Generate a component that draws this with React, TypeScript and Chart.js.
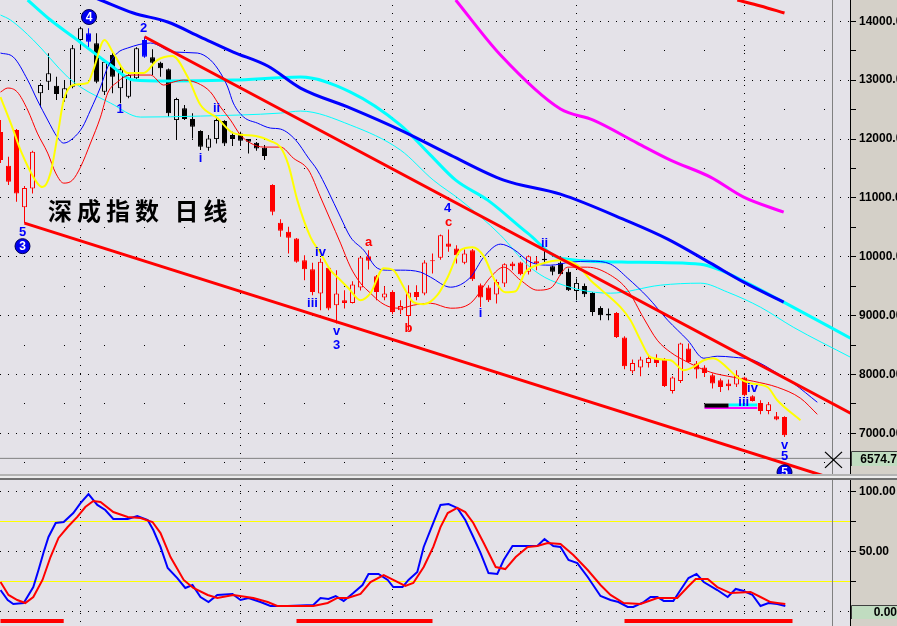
import React, { useEffect, useRef } from 'react';
import { Chart, registerables } from 'chart.js';

Chart.register(...registerables);

// ---------- layout constants ----------
const W = 897;
const MAIN_H = 474;
const OSC_TOP = 480;
const OSC_H = 146;
const AXIS_W = 47;
const CHART_BG = '#E4E2E8';
const PANEL_BG = '#D4D0C8';
const BOX_BG = '#C0DCC0';
const FONT = '"Liberation Sans", Arial, sans-serif';

// ---------- scales ----------
const X_MIN = -0.0625;
const X_MAX = 106.1875;
const PRICE_MIN = 6309;
const PRICE_MAX = 14362;
const OSC_MIN = -11.67;
const OSC_MAX = 110;
const MONTH_LINES = [10, 30, 49, 72, 93];
const PRICE_TICKS = [6500, 7000, 7500, 8000, 8500, 9000, 9500, 10000, 10500, 11000, 11500, 12000, 12500, 13000, 13500, 14000];
const PRICE_LABELS = [7000, 8000, 9000, 10000, 11000, 12000, 13000, 14000];
const OSC_TICKS = [0, 25, 50, 75, 100];
const OSC_LABELS = [50, 100];
const OSC_LEVELS = [25, 75];
const CURSOR_I = 104;
const CURSOR_PRICE = 6574.7;
const CURSOR_OSC = 0;

const TITLE = '深成指数 日线';

// ---------- candles (daily OHLC) ----------
const OPEN = [12118, 11545, 12152, 10843, 11161, 12776, 12973, 12905, 12691, 12888,
  13682, 13796, 13626, 12803, 13427, 12861, 12718, 13031, 13682, 13388,
  13296, 13184, 12322, 12521, 12339, 12135, 11851, 11999, 12305, 12067,
  12096, 11999, 11936, 11851, 11217, 10576, 10423, 10311, 9942, 9789,
  9376, 9811, 9177, 9262, 9216, 9478, 10010, 9670, 9308, 9403,
  9092, 8995, 9403, 9376, 9940, 9981, 10226, 10141, 9896, 10112,
  9517, 9478, 9359, 9546, 9886, 9903, 9743, 9925, 9964, 9840,
  9896, 9743, 9420, 9505, 9386, 9131, 9030, 9046, 8628, 8055,
  8118, 8196, 8271, 8259, 7720, 7890, 8441, 8186, 8118, 7987,
  7902, 7846, 7829, 7948, 7630, 7516, 7380, 7290, 7278];
const HIGH = [12322, 11698, 12170, 11200, 11800, 12946, 13456, 13058, 13002, 13597,
  13908, 13881, 13796, 13342, 13483, 13228, 13100, 13560, 13738, 13524,
  13313, 13200, 12700, 12577, 12436, 12150, 12067, 12378, 12320, 12123,
  12123, 12000, 11950, 11897, 11230, 10639, 10508, 10320, 10027, 9896,
  9971, 9830, 9772, 9432, 9585, 10000, 10112, 9690, 9500, 9432,
  9262, 9517, 9517, 9942, 10056, 10380, 10464, 10197, 10123, 10130,
  9546, 9517, 9614, 9890, 9913, 9913, 10027, 10000, 10100, 9851,
  9925, 9801, 9630, 9546, 9400, 9160, 9120, 9060, 8650, 8254,
  8300, 8327, 8344, 8280, 7970, 8540, 8526, 8230, 8157, 8016,
  7931, 7914, 8072, 7960, 7647, 7562, 7533, 7363, 7290];
const LOW = [11591, 11217, 10933, 10571, 11076, 12538, 12832, 12662, 12633, 12861,
  13512, 13512, 12946, 12747, 12776, 12606, 12691, 13000, 13380, 13087,
  13058, 12378, 11999, 12322, 12011, 11812, 11800, 11926, 11880, 11880,
  11880, 11756, 11800, 11642, 10707, 10338, 10056, 9896, 9602, 9347,
  9092, 9092, 8866, 9121, 9205, 9427, 9784, 9262, 9262, 9024,
  9024, 8752, 9262, 9347, 9716, 9950, 10083, 9886, 9874, 9590,
  9148, 9230, 9206, 9488, 9772, 9687, 9700, 9772, 9886, 9687,
  9687, 9420, 9262, 9317, 9007, 8922, 8922, 8620, 8089, 8016,
  7970, 8118, 8128, 7788, 7676, 7856, 8196, 7931, 7958, 7761,
  7703, 7732, 7788, 7630, 7540, 7324, 7324, 7222, 6938];
const CLOSE = [11642, 11273, 11076, 11166, 11783, 12917, 13116, 12764, 12861, 13541,
  13881, 13653, 12973, 13313, 13058, 13184, 13087, 13541, 13398, 13296,
  13201, 12436, 12679, 12339, 12208, 11868, 12011, 12322, 11926, 11999,
  11970, 11953, 11841, 11710, 10763, 10440, 10321, 9913, 9789, 9403,
  9913, 9121, 9376, 9216, 9529, 9988, 9930, 9403, 9376, 9063,
  9165, 9393, 9317, 9903, 9925, 10367, 10168, 10027, 10056, 9619,
  9308, 9262, 9573, 9874, 9840, 9704, 10010, 9886, 9942, 9743,
  9704, 9432, 9556, 9364, 9063, 9007, 9000, 8638, 8140, 8196,
  8254, 8281, 8196, 7805, 7948, 8526, 8213, 8084, 8026, 7846,
  7788, 7800, 7987, 7647, 7550, 7380, 7494, 7234, 6967];
// r = red, k = black, b = blue
const CANDLE_COLOR =
  'rrrrr' + 'kkkkkk' + 'b' + 'kkkkkk' + 'b' + 'kkkkkkkkkkkkkkk' +
  'rrrrrrrrrrrrrrrrrrrrrrrrrrrrrrrrrr' + 'kkkkkkkkk' + 'rrrrrrrrrrrrrrrrrrrrrr';

// ---------- moving averages / trend lines : [index, value] ----------
const MA_YELLOW: [number, number][] = [
  [0, 12713], [1.6, 12152], [2.5, 11812], [4.6, 11251], [5.25, 11183], [6.25, 11421], [7.1, 12033],
  [7.9, 12662], [9.1, 12917], [10.9, 12951], [11.6, 13172], [13, 13682], [14.1, 13461], [15.9, 13121],
  [17.9, 13121], [19.6, 13342], [21.5, 13410], [23.4, 13053], [25, 12577], [27.1, 12356], [29.1, 12101],
  [31.9, 12050], [33.75, 11965], [35, 11863], [36, 11557], [37.1, 10962], [38.75, 10333], [40, 10061],
  [41.25, 9772], [42.5, 9602], [43.5, 9466], [45, 9262], [46.25, 9381], [47.9, 9806], [49.1, 9772],
  [50.4, 9483], [51.6, 9228], [52.9, 9194], [54.6, 9347], [55.9, 9653], [57.5, 10112], [59, 10163],
  [60.4, 10010], [61.9, 9568], [63.1, 9398], [64.4, 9415], [65.6, 9738], [67.5, 9874], [70, 9942],
  [72.1, 9857], [73.75, 9602], [75, 9450], [77.5, 9143], [78.75, 8922], [80, 8582], [81.25, 8293],
  [83.75, 8242], [85.4, 8072], [86.6, 8123], [87.9, 8242], [89.1, 8276], [90.9, 8106], [92.1, 7953],
  [93.75, 7851], [95.9, 7783], [97.1, 7562], [100, 7222]];
const MA_RED_THIN: [number, number][] = [
  [0, 12798], [0.9, 12866], [2.1, 12798], [3.4, 12492], [4.6, 12101], [5.9, 11761], [6.9, 11421],
  [7.9, 11251], [9, 11302], [10, 11523], [11.25, 11931], [12.5, 12373], [13.4, 12781], [14.6, 12968],
  [16.25, 13087], [18.75, 13087], [20.4, 12917], [21.6, 12968], [22.9, 13002], [24.6, 12951],
  [26.25, 12798], [27.5, 12543], [28.75, 12322], [30, 12067], [31.25, 11931], [32.9, 11863], [35, 11863],
  [36.6, 11676], [38.5, 11472], [40, 11013], [41.25, 10622], [42.5, 10231], [43.75, 9823], [45, 9551],
  [46.25, 9381], [47.5, 9228], [48.75, 9143], [50, 9126], [51.6, 9177], [53.75, 9211], [56.25, 9126],
  [58.75, 9211], [61.25, 9653], [62.9, 9823], [65, 9602], [67.1, 9432], [68.75, 9466], [70.9, 9823],
  [73.4, 9823], [76.25, 9687], [78.4, 9432], [80.4, 8956], [82.1, 8582], [83.75, 8378], [85.9, 8208],
  [88.75, 8038], [91.6, 7953], [94.1, 7885], [97.1, 7783], [100, 7596], [102.1, 7324]];
const MA_BLUE_THIN: [number, number][] = [
  [0, 13461], [1.6, 13393], [3.4, 13002], [4.6, 12662], [5.9, 12322], [7.1, 12033], [7.9, 11931],
  [9.1, 12016], [10.25, 12203], [11.25, 12492], [12.5, 12883], [13.4, 13223], [14.6, 13461], [15.9, 13546],
  [18.75, 13631], [21.6, 13478], [24.6, 13461], [26.25, 13342], [27.5, 13121], [28.4, 12883], [29.1, 12611],
  [30.4, 12373], [32.1, 12271], [33.75, 12186], [35, 12169], [36.9, 11982], [38.5, 11676], [39.6, 11472],
  [40.9, 11132], [42.5, 10673], [43.75, 10333], [45.4, 10112], [47.1, 9806], [48.4, 9772], [50, 9772],
  [52.5, 9738], [53.75, 9653], [56.25, 9483], [58.75, 9653], [60.4, 9993], [62.5, 10214], [64.1, 10129],
  [66.25, 9908], [68.75, 9857], [71.25, 9908], [73.75, 9925], [76.25, 9874], [78.4, 9636], [80.9, 9313],
  [83.4, 8922], [85.9, 8582], [87.9, 8276], [89.6, 8310], [91.6, 8293], [94.1, 8242], [97.1, 8021],
  [99.1, 7851], [102.1, 7528]];
const MA_CYAN_THIN: [number, number][] = [
  [0, 14107], [1.25, 14022], [4.1, 13682], [8.4, 13053], [10, 12883], [13.75, 12611], [17.5, 12373],
  [25, 12390], [35, 12441], [37.5, 12475], [43.75, 12237], [50, 11812], [54.1, 11302], [57.5, 10962],
  [62.5, 10367], [65.9, 9857], [68.75, 9602], [76.25, 9381], [82.5, 9517], [87.5, 9551], [90.9, 9398],
  [95, 9143], [99.1, 8803], [106.25, 8293]];
const MA_CYAN_THICK: [number, number][] = [
  [3.4, 14362], [6.25, 14022], [9.1, 13733], [13.75, 13257], [16.6, 13002], [20.9, 12985], [29.1, 13002],
  [37.5, 13053], [43.75, 12798], [50, 12237], [53.75, 11727], [56.9, 11302], [60.9, 10962], [65.9, 10401],
  [70, 9976], [78.4, 9908], [87.5, 9874], [90, 9772], [92.9, 9585], [97.9, 9228], [106.25, 8616]];
const MA_BLUE_THICK: [number, number][] = [
  [10, 14498], [12.5, 14362], [16.6, 14141], [20.9, 13988], [25, 13733], [29.1, 13478], [33.4, 13240],
  [37.5, 12866], [43.75, 12526], [50, 12152], [56.25, 11727], [62.9, 11302], [70, 11064], [78.4, 10605],
  [83.4, 10299], [88.75, 9891], [92.9, 9568], [97.9, 9228]];
const MA_MAGENTA: [number, number][] = [
  [56.9, 14362], [62.5, 13427], [70, 12509], [74.1, 12322], [79.6, 11931], [83.75, 11642], [88.75, 11353],
  [92.9, 11013], [97.9, 10758]];
const MA_RED_LONG: [number, number][] = [[92.1, 14362], [95, 14260], [98, 14141]];
const CHANNEL_UPPER: [number, number][] = [[18, 13738], [106.25, 7341]];
const CHANNEL_LOWER: [number, number][] = [[3, 10571], [106.25, 6134]];
const MARK_BLACK: [number, number][] = [[88, 7472], [91, 7472]];
const MARK_CYAN: [number, number][] = [[91, 7482], [94.6, 7482]];
const MARK_MAGENTA: [number, number][] = [[88, 7431], [94.6, 7431]];

// ---------- wave labels : [index, value, text, colour] ----------
const WAVE_LABELS: [number, number, string, string][] = [
  [2.75, 10418, '5', 'b'], [14.94, 12509, '1', 'b'], [17.9, 13886, '2', 'b'],
  [25, 11676, 'i', 'b'], [27, 12526, 'ii', 'b'], [39, 9211, 'iii', 'b'], [40, 10078, 'iv', 'b'],
  [42, 8735, 'v', 'b'], [42, 8497, '3', 'b'], [46, 10248, 'a', 'r'], [51, 8786, 'b', 'r'],
  [55.9, 10826, '4', 'b'], [56, 10588, 'c', 'r'], [60, 9041, 'i', 'b'], [68, 10231, 'ii', 'b'],
  [92.9, 7528, 'iii', 'b'], [94, 7766, 'iv', 'b'], [98, 6797, 'v', 'b'], [98, 6610, '5', 'b']];
const WAVE_CIRCLES: [number, number, string][] = [
  [2.75, 10180, '3'], [11.06, 14073, '4'], [98, 6338, '5']];

// ---------- stochastic oscillator : [index, value] ----------
const OSC_K: [number, number][] = [
  [0, 18.3], [0.9, 10], [1.6, 6.7], [2.9, 7.5], [4.1, 20.8], [4.75, 35], [5.4, 50], [6, 62.5], [6.9, 74.2],
  [7.9, 75], [9.1, 82.5], [10, 90.8], [11, 98.3], [12.1, 89.2], [13.1, 85], [14.1, 77.5], [15.9, 77.5],
  [17.1, 80], [18.4, 76.7], [19.1, 68.3], [20, 54.2], [20.9, 36.7], [22.1, 28.3], [23.1, 20], [24, 22.5],
  [25, 12.5], [26, 8.3], [27.1, 14.2], [29, 15], [30, 10], [31, 11.7], [32.5, 8.3], [33.75, 5], [35.9, 5],
  [39.1, 5.8], [40, 11.7], [41, 10.8], [41.9, 13.3], [42.9, 9.2], [44.1, 15.8], [45.25, 22.5], [46, 31.7],
  [47.25, 31.7], [48.4, 26.7], [49.1, 20.8], [50.25, 20.8], [51, 26.7], [52.1, 33.3], [52.9, 54.2],
  [54.1, 74.2], [55, 89.2], [56, 90], [57.1, 86.7], [58.1, 76.7], [59.1, 62.5], [60, 49.2], [61, 32.5],
  [62.1, 31.7], [62.9, 43.3], [64, 55], [67.1, 55], [68, 60.8], [69.1, 55], [70, 54.2], [71, 43.3],
  [72.1, 40.8], [73.4, 29.2], [75, 13.3], [76.25, 10], [77.25, 8.3], [78.4, 4.2], [79.1, 4.2], [80.4, 8.3],
  [81.25, 12.5], [82.1, 12.5], [82.9, 9.2], [84.1, 9.2], [85, 18.3], [86, 28.3], [87, 31.7], [87.9, 25],
  [89.6, 18.3], [90.9, 12.5], [91.9, 19.2], [92.9, 17.5], [94, 14.2], [95, 5], [96, 7.5], [97.1, 6.7],
  [98.1, 5]];
const OSC_D: [number, number][] = [
  [0, 25], [1, 14.2], [2.1, 10], [3.1, 7.5], [4.1, 12.5], [5.25, 26.7], [6.25, 45.8], [7.25, 61.7],
  [8.4, 70.8], [9.6, 79.2], [10.6, 87.5], [11.6, 92.5], [12.5, 91.7], [14.1, 83.3], [15.9, 79.2],
  [17.5, 78.3], [19, 75], [20, 65.8], [21.25, 45.8], [22.9, 26.7], [24.1, 20], [25.9, 14.2], [27.1, 11.7],
  [29.1, 14.2], [31.6, 11.7], [33.4, 8.3], [34.6, 5], [39.1, 5], [40.9, 7.5], [42.1, 11.7], [43.4, 11.7],
  [45, 15], [46.25, 25], [47.9, 30.8], [49.1, 26.7], [50.6, 21.7], [51.6, 24.2], [52.9, 37.5], [54.1, 54.2],
  [55, 70.8], [55.9, 82.5], [57.1, 86.7], [58.1, 83.3], [59.1, 74.2], [60.4, 57.5], [61.9, 37.5],
  [63.1, 35.8], [64.4, 45.8], [65.9, 54.2], [67.1, 55], [68.4, 57.5], [70, 56.7], [71.6, 47.5], [73.4, 35],
  [75, 22.5], [76.25, 14.2], [77.9, 7.5], [80, 6.7], [82.1, 11.7], [84.6, 11.7], [85.9, 20.8], [86.9, 27.5],
  [88.4, 27.5], [89.6, 20.8], [91.25, 15.8], [93.75, 16.7], [95, 12.5], [96.25, 8.3], [97.1, 7.5],
  [98.1, 6.7]];
const OSC_ZONES: [number, number][][] = [
  [[0, -7.5], [7.9, -7.5]], [[37, -7.5], [54, -7.5]], [[78, -7.5], [99, -7.5]]];

// ---------- helpers ----------
const COLOR_OF: Record<string, string> = { r: '#FF0000', k: '#000000', b: '#0000FF' };

function lineDs(points: [number, number][], color: string, width: number, order: number, smooth = true): any {
  return {
    type: 'line',
    data: points.map(([x, y]) => ({ x, y })),
    borderColor: color,
    borderWidth: width,
    pointRadius: 0,
    fill: false,
    order,
    tension: 0,
    cubicInterpolationMode: smooth ? 'monotone' : 'default',
    borderCapStyle: 'butt',
  };
}

const bgPlugin = {
  id: 'bgPlugin',
  beforeDraw(chart: any) {
    const { ctx, chartArea: a } = chart;
    ctx.save();
    ctx.fillStyle = PANEL_BG;
    ctx.fillRect(0, 0, chart.width, chart.height);
    ctx.fillStyle = CHART_BG;
    ctx.fillRect(a.left, a.top, a.right - a.left, a.bottom - a.top);
    ctx.restore();
  },
};

function drawValueBox(chart: any, yVal: number, text: string, scaleId: string, h: number) {
  const { ctx } = chart;
  const ys = chart.scales[scaleId];
  const y = ys.getPixelForValue(yVal);
  const left = chart.chartArea.right + 1;
  ctx.save();
  ctx.fillStyle = BOX_BG;
  ctx.fillRect(left, Math.round(y - h / 2), chart.width - left, h);
  ctx.strokeStyle = '#404040';
  ctx.lineWidth = 1;
  ctx.beginPath();
  ctx.moveTo(left + 0.5, Math.round(y + h / 2));
  ctx.lineTo(left + 0.5, Math.round(y - h / 2) + 0.5);
  ctx.lineTo(chart.width, Math.round(y - h / 2) + 0.5);
  ctx.stroke();
  ctx.fillStyle = '#000';
  ctx.font = `bold 12px ${FONT}`;
  ctx.textAlign = 'right';
  ctx.textBaseline = 'middle';
  ctx.fillText(text, chart.width, y + 1);
  ctx.restore();
}

const mainOverlay = {
  id: 'mainOverlay',
  afterDatasetsDraw(chart: any) {
    const { ctx, chartArea: a, scales } = chart;
    const xs = scales.x;
    const ys = scales.y;
    ctx.save();
    ctx.beginPath();
    ctx.rect(a.left, a.top, a.right - a.left, a.bottom - a.top);
    ctx.clip();
    // title
    ctx.fillStyle = '#000';
    ctx.font = 'bold 24px "Noto Sans CJK SC", sans-serif';
    ctx.textAlign = 'left';
    ctx.textBaseline = 'alphabetic';
    try { (ctx as any).letterSpacing = '5px'; } catch (e) { /* ignore */ }
    ctx.fillText(TITLE, 48, 220);
    try { (ctx as any).letterSpacing = '0px'; } catch (e) { /* ignore */ }
    // wave labels
    ctx.font = `bold 13px ${FONT}`;
    ctx.textAlign = 'center';
    ctx.textBaseline = 'middle';
    for (const [i, v, t, c] of WAVE_LABELS) {
      ctx.fillStyle = COLOR_OF[c];
      ctx.fillText(t, xs.getPixelForValue(i), ys.getPixelForValue(v));
    }
    // circled wave numbers
    for (const [i, v, t] of WAVE_CIRCLES) {
      const x = xs.getPixelForValue(i);
      const y = ys.getPixelForValue(v);
      ctx.beginPath();
      ctx.arc(x, y, 7.5, 0, Math.PI * 2);
      ctx.fillStyle = '#0000F0';
      ctx.fill();
      ctx.lineWidth = 1;
      ctx.strokeStyle = '#000050';
      ctx.stroke();
      ctx.fillStyle = '#FFFFFF';
      ctx.font = `bold 12px ${FONT}`;
      ctx.fillText(t, x, y + 0.5);
    }
    // cursor cross mark
    const cx = xs.getPixelForValue(CURSOR_I) + 1;
    const cy = ys.getPixelForValue(CURSOR_PRICE) + 1.5;
    ctx.strokeStyle = '#000';
    ctx.lineWidth = 1.3;
    ctx.beginPath();
    ctx.moveTo(cx - 8.5, cy - 8);
    ctx.lineTo(cx + 8.5, cy + 8);
    ctx.moveTo(cx + 8.5, cy - 8);
    ctx.lineTo(cx - 8.5, cy + 8);
    ctx.stroke();
    ctx.restore();
  },
  afterDraw(chart: any) {
    drawValueBox(chart, CURSOR_PRICE, CURSOR_PRICE.toFixed(1), 'y', 15);
  },
};

const oscOverlay = {
  id: 'oscOverlay',
  afterDraw(chart: any) {
    drawValueBox(chart, CURSOR_OSC, CURSOR_OSC.toFixed(2), 'y', 14);
  },
};

function xScale(): any {
  return {
    type: 'linear',
    min: X_MIN,
    max: X_MAX,
    offset: false,
    afterBuildTicks: (s: any) => { s.ticks = MONTH_LINES.map((v) => ({ value: v })); },
    afterFit: (s: any) => { s.height = 0; s.paddingLeft = 0; s.paddingRight = 0; },
    ticks: { display: false },
    grid: { offset: false, color: '#000', lineWidth: 1, drawTicks: false, drawOnChartArea: true },
    border: { display: false, dash: [1, 7], dashOffset: 3 },
  };
}

function yScale(min: number, max: number, tickValues: number[], labelValues: number[],
  major: (v: number) => boolean, yellow: (v: number) => boolean): any {
  return {
    type: 'linear',
    position: 'right',
    min,
    max,
    afterBuildTicks: (s: any) => { s.ticks = tickValues.map((v) => ({ value: v })); },
    afterFit: (s: any) => { s.width = AXIS_W; s.paddingTop = 0; s.paddingBottom = 0; },
    ticks: {
      autoSkip: false,
      padding: 3,
      color: '#000',
      font: { family: FONT, size: 12, weight: 'bold' },
      callback: (v: any) => (labelValues.includes(Number(v)) ? Number(v).toFixed(2) : ''),
    },
    grid: {
      drawTicks: true,
      tickLength: 6,
      tickColor: '#000',
      lineWidth: 1,
      color: (c: any) => (c.tick && yellow(c.tick.value) ? '#FFFF00' : '#000000'),
    },
    border: {
      display: true,
      color: '#000',
      width: 1,
      dash: (c: any) => {
        if (!c.tick) return [];
        if (yellow(c.tick.value)) return [];
        return major(c.tick.value) ? [1, 7] : [1, 39];
      },
      dashOffset: (c: any) => (c.tick && !major(c.tick.value) ? 16 : 0),
    },
  };
}

export default function App() {
  const mainRef = useRef<HTMLCanvasElement | null>(null);
  const oscRef = useRef<HTMLCanvasElement | null>(null);

  useEffect(() => {
    const colors = OPEN.map((_, i) => COLOR_OF[CANDLE_COLOR[i]]);
    const bodyBg = OPEN.map((o, i) => (CLOSE[i] > o ? CHART_BG : colors[i]));
    const wick = OPEN.map((_, i) => ({ x: i, y: [LOW[i], HIGH[i]] }));
    const body = OPEN.map((o, i) => ({ x: i, y: [o, CLOSE[i]] }));

    const main = new Chart(mainRef.current as HTMLCanvasElement, {
      type: 'bar',
      data: {
        datasets: [
          lineDs(CHANNEL_UPPER, '#FF0000', 3, 1, false),
          lineDs(CHANNEL_LOWER, '#FF0000', 3, 1, false),
          lineDs(MARK_BLACK, '#000000', 4, 2, false),
          lineDs(MARK_CYAN, '#00FFFF', 3, 2, false),
          lineDs(MARK_MAGENTA, '#FF00FF', 2, 3, false),
          lineDs(MA_YELLOW, '#FFFF00', 2, 5),
          lineDs(MA_RED_THIN, '#FF0000', 1, 6),
          lineDs(MA_BLUE_THIN, '#0000FF', 1, 7),
          lineDs(MA_CYAN_THIN, '#00FFFF', 1, 8),
          lineDs(MA_BLUE_THICK, '#0000FF', 3, 9),
          lineDs(MA_CYAN_THICK, '#00FFFF', 3, 10),
          lineDs(MA_MAGENTA, '#FF00FF', 3, 11),
          lineDs(MA_RED_LONG, '#FF0000', 3, 12),
          {
            type: 'bar', data: body, backgroundColor: bodyBg, borderColor: colors, borderWidth: 1,
            borderSkipped: false, barThickness: 5, grouped: false, order: 20, inflateAmount: 0, minBarLength: 1,
          } as any,
          {
            type: 'bar', data: wick, backgroundColor: colors, borderWidth: 0,
            barThickness: 1, grouped: false, order: 21, inflateAmount: 0,
          } as any,
          lineDs([[X_MIN, CURSOR_PRICE], [X_MAX, CURSOR_PRICE]], '#808080', 1, 40, false),
          lineDs([[CURSOR_I, PRICE_MIN], [CURSOR_I, PRICE_MAX]], '#808080', 1, 40, false),
        ],
      },
      options: {
        animation: false,
        responsive: false,
        maintainAspectRatio: false,
        devicePixelRatio: 1,
        events: [],
        layout: { padding: 0 },
        plugins: { legend: { display: false }, tooltip: { enabled: false } },
        scales: {
          x: xScale(),
          y: yScale(PRICE_MIN, PRICE_MAX, PRICE_TICKS, PRICE_LABELS, (v) => v % 1000 === 0, () => false),
        },
      } as any,
      plugins: [bgPlugin, mainOverlay],
    });

    const osc = new Chart(oscRef.current as HTMLCanvasElement, {
      type: 'line',
      data: {
        datasets: [
          lineDs(OSC_D, '#FF0000', 2, 1, false),
          lineDs(OSC_K, '#0000FF', 2, 2, false),
          ...OSC_ZONES.map((z) => lineDs(z, '#FF0000', 4, 3, false)),
          lineDs([[CURSOR_I, OSC_MIN], [CURSOR_I, OSC_MAX]], '#808080', 1, 40, false),
        ],
      },
      options: {
        animation: false,
        responsive: false,
        maintainAspectRatio: false,
        devicePixelRatio: 1,
        events: [],
        layout: { padding: 0 },
        plugins: { legend: { display: false }, tooltip: { enabled: false } },
        scales: {
          x: xScale(),
          y: yScale(OSC_MIN, OSC_MAX, OSC_TICKS, OSC_LABELS, (v) => v % 50 === 0,
            (v) => OSC_LEVELS.includes(v)),
        },
      } as any,
      plugins: [bgPlugin, oscOverlay],
    });

    return () => {
      main.destroy();
      osc.destroy();
    };
  }, []);

  return (
    <div style={{ position: 'fixed', left: 0, top: 0, width: W, height: 626, background: CHART_BG, overflow: 'hidden' }}>
      <canvas ref={mainRef} width={W} height={MAIN_H}
        style={{ position: 'absolute', left: 0, top: 0, width: W, height: MAIN_H }} />
      <div style={{ position: 'absolute', left: 0, top: MAIN_H, width: W, height: 2, background: '#B4B4B4' }} />
      <div style={{ position: 'absolute', left: 0, top: MAIN_H + 2, width: W, height: 2, background: '#ECECEC' }} />
      <div style={{ position: 'absolute', left: 0, top: MAIN_H + 4, width: W, height: 2, background: '#707070' }} />
      <canvas ref={oscRef} width={W} height={OSC_H}
        style={{ position: 'absolute', left: 0, top: OSC_TOP, width: W, height: OSC_H }} />
    </div>
  );
}
